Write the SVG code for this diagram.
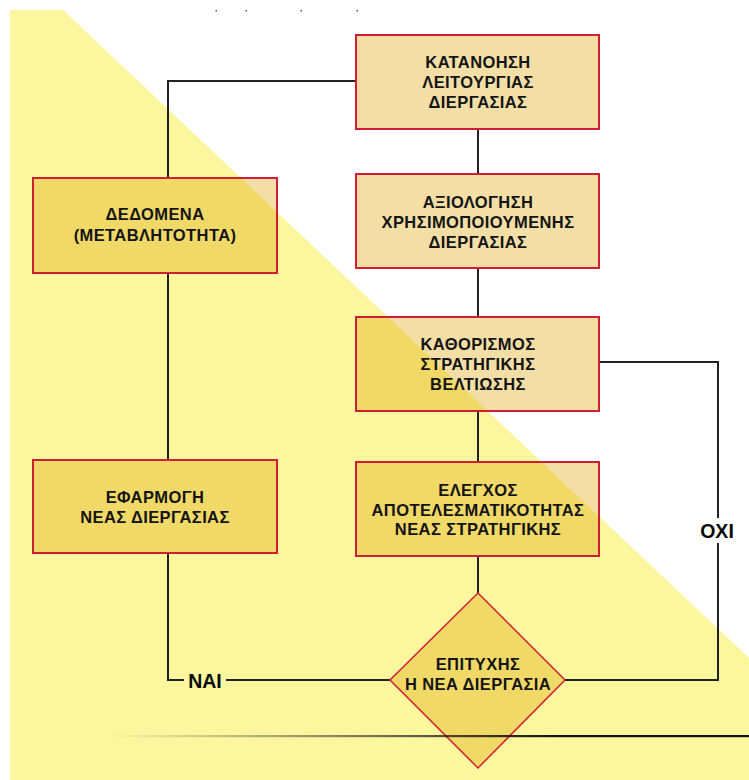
<svg xmlns="http://www.w3.org/2000/svg" width="749" height="780" viewBox="0 0 749 780">
<style>
.box{fill:rgb(222,166,8);fill-opacity:0.36;stroke:#D01F35;stroke-width:2}
.dia{fill:rgb(222,166,8);fill-opacity:0.36;stroke:#D01F35;stroke-width:1.5}
.t{font-family:"Liberation Sans",Arial,sans-serif;font-weight:bold;font-size:16.5px;letter-spacing:0.4px;fill:#141414;text-anchor:middle}
.lbl{font-family:"Liberation Sans",Arial,sans-serif;font-weight:bold;font-size:19.5px;fill:#0a0a0a;text-anchor:middle}
.c{fill:none;stroke:#222;stroke-width:2}
</style>
<defs>
<linearGradient id="fade" x1="110" y1="0" x2="560" y2="0" gradientUnits="userSpaceOnUse">
<stop offset="0" stop-color="#222" stop-opacity="0"/>
<stop offset="1" stop-color="#111" stop-opacity="1"/>
</linearGradient>
</defs>
<rect x="0" y="0" width="749" height="780" fill="#ffffff"/>
<polygon points="10,10 63,10 749,658 749,780 10,780" fill="#FCF69E"/>
<g fill="#555">
<rect x="215.5" y="10" width="1.5" height="1.5"/>
<rect x="245.5" y="10" width="1.5" height="1.5"/>
<rect x="300.5" y="10" width="1.5" height="1.5"/>
<rect x="356.5" y="10" width="1.5" height="1.5"/>
</g>
<g id="connectors">
<polyline class="c" points="356,81 168,81 168,178"/>
<line class="c" x1="478" y1="129" x2="478" y2="174"/>
<line class="c" x1="478" y1="268" x2="478" y2="317"/>
<line class="c" x1="478" y1="411" x2="478" y2="462"/>
<line class="c" x1="478" y1="556" x2="478" y2="593"/>
<line class="c" x1="168" y1="273" x2="168" y2="460"/>
<polyline class="c" points="168,553 168,680 184,680"/>
<line class="c" x1="226" y1="680" x2="390" y2="680"/>
<polyline class="c" points="599,362 718,362 718,518"/>
<polyline class="c" points="718,543 718,680 565,680"/>
<text class="lbl" x="205" y="687.5">ΝΑΙ</text>
<text class="lbl" x="717" y="538">ΟΧΙ</text>
</g>
<g id="n1">
<rect class="box" x="356" y="35" width="243" height="94"/>
<text class="t" x="478" y="68">ΚΑΤΑΝΟΗΣΗ</text>
<text class="t" x="478" y="88">ΛΕΙΤΟΥΡΓΙΑΣ</text>
<text class="t" x="478" y="108">ΔΙΕΡΓΑΣΙΑΣ</text>
</g>
<g id="n2">
<rect class="box" x="356" y="174" width="243" height="94"/>
<text class="t" x="478" y="208">ΑΞΙΟΛΟΓΗΣΗ</text>
<text class="t" x="478" y="228">ΧΡΗΣΙΜΟΠΟΙΟΥΜΕΝΗΣ</text>
<text class="t" x="478" y="248">ΔΙΕΡΓΑΣΙΑΣ</text>
</g>
<g id="n3">
<rect class="box" x="356" y="317" width="243" height="94"/>
<text class="t" x="478" y="350">ΚΑΘΟΡΙΣΜΟΣ</text>
<text class="t" x="478" y="370">ΣΤΡΑΤΗΓΙΚΗΣ</text>
<text class="t" x="478" y="390">ΒΕΛΤΙΩΣΗΣ</text>
</g>
<g id="n4">
<rect class="box" x="356" y="462" width="243" height="94"/>
<text class="t" x="478" y="496">ΕΛΕΓΧΟΣ</text>
<text class="t" x="478" y="516">ΑΠΟΤΕΛΕΣΜΑΤΙΚΟΤΗΤΑΣ</text>
<text class="t" x="478" y="535">ΝΕΑΣ ΣΤΡΑΤΗΓΙΚΗΣ</text>
</g>
<g id="n5">
<rect class="box" x="33" y="178" width="244" height="95"/>
<text class="t" x="155" y="220">ΔΕΔΟΜΕΝΑ</text>
<text class="t" x="155" y="241">(ΜΕΤΑΒΛΗΤΟΤΗΤΑ)</text>
</g>
<g id="n6">
<rect class="box" x="33" y="460" width="244" height="93"/>
<text class="t" x="155" y="503">ΕΦΑΡΜΟΓΗ</text>
<text class="t" x="155" y="523">ΝΕΑΣ ΔΙΕΡΓΑΣΙΑΣ</text>
</g>
<g id="n7">
<polygon class="dia" points="478,593 565,680 478,768 390,680"/>
<text class="t" x="478" y="670">ΕΠΙΤΥΧΗΣ</text>
<text class="t" x="478" y="690">Η ΝΕΑ ΔΙΕΡΓΑΣΙΑ</text>
</g>
<rect x="110" y="735" width="639" height="2.2" fill="url(#fade)"/>
</svg>
